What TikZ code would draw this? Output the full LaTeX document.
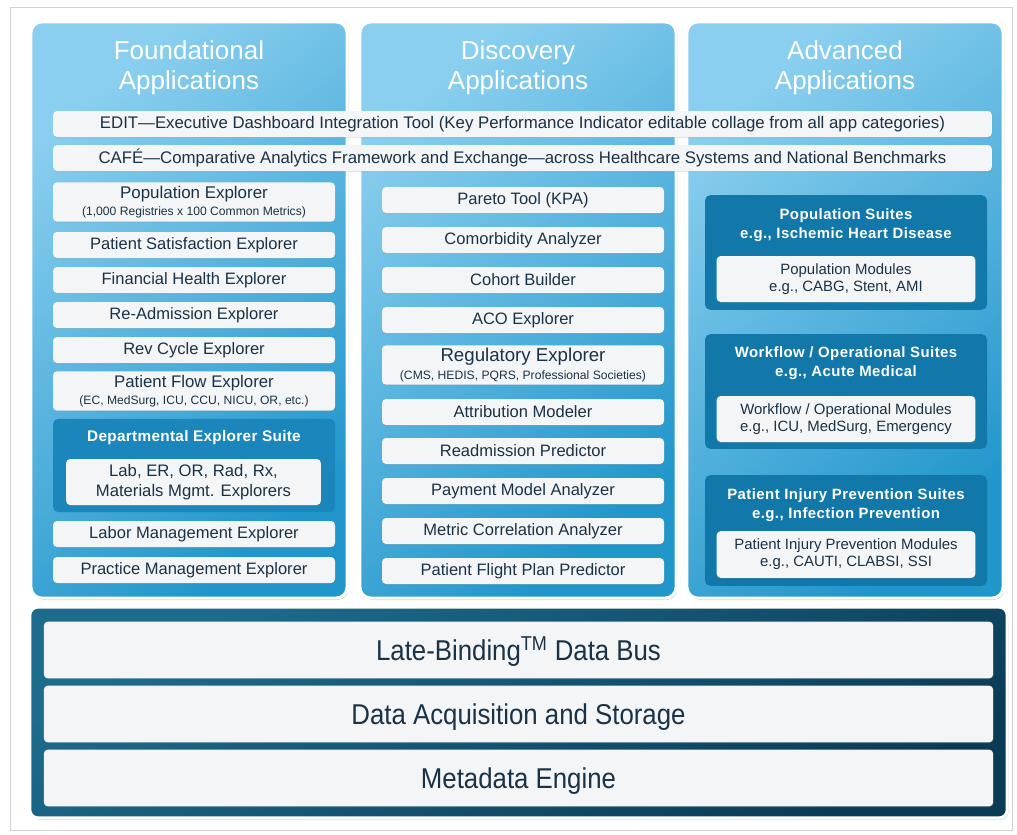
\documentclass[tikz,border=0pt]{standalone}
\usepackage{fontspec}
\setmainfont{Liberation Sans}
\usetikzlibrary{positioning, shadows}

\definecolor{skyLight}{HTML}{8ACFEF}
\definecolor{skyDark}{HTML}{2196CB}
\definecolor{suiteBlue}{HTML}{1278AA}
\definecolor{deptBlue}{HTML}{1A86BC}
\definecolor{busLight}{HTML}{1D6C8E}
\definecolor{busDark}{HTML}{0A3B55}
\definecolor{barFill}{HTML}{F4F5F6}
\definecolor{inkBlue}{HTML}{1A3246}
\definecolor{frameGray}{HTML}{D2D2D2}

\begin{document}
\begin{tikzpicture}[
    x=0.75pt, y=-0.75pt,
    column/.style={draw=white, line width=2.2pt, rounded corners=8pt,
        top color=skyLight, bottom color=skyDark, shading angle=40,
        minimum width=237pt, minimum height=432pt,
        drop shadow={opacity=0.3, shadow xshift=1pt, shadow yshift=-1.5pt}},
    coltitle/.style={text=white, align=center,
        font=\fontsize{19.5}{22.5}\selectfont},
    bar/.style={fill=barFill, rounded corners=3pt, text=inkBlue,
        align=center, inner sep=0pt,
        drop shadow={opacity=0.22, shadow xshift=0.4pt, shadow yshift=-0.8pt}},
    wide/.style={bar, minimum width=704pt, minimum height=19.5pt,
        font=\fontsize{12.6}{14}\selectfont},
    item/.style={bar, minimum width=211.5pt, minimum height=19.5pt,
        font=\fontsize{12.4}{14}\selectfont},
    tallitem/.style={item, minimum height=29.5pt},
    suite/.style={fill=suiteBlue, rounded corners=4pt, minimum width=211.5pt,
        inner sep=0pt},
    suitetitle/.style={text=white, align=center,
        font=\fontsize{11.2}{14.2}\selectfont\bfseries\addfontfeature{LetterSpace=3}},
    module/.style={bar, minimum width=194pt, minimum height=34.5pt,
        font=\fontsize{11.2}{12.8}\selectfont},
    busbar/.style={bar, minimum width=712pt, minimum height=42.5pt,
        text height=18pt, text depth=2pt,
        font=\fontsize{21.5}{23}\selectfont},
]
\useasboundingbox (0,0) rectangle (1017,835);
\fill[white] (0,0) rectangle (1017,835);
\draw[frameGray, line width=0.6pt] (10,7) rectangle (1012,830);

% application columns
\node[column] (found) at (189,310) {};
\node[column] (disc) at (518,310) {};
\node[column] (adv) at (845,310) {};

\node[coltitle] (foundtitle) at (189,68) {Foundational\\Applications};
\node[coltitle] (disctitle) at (518,68) {Discovery\\Applications};
\node[coltitle] (advtitle) at (845,68) {Advanced\\Applications};

% bars across all columns
\node[wide] (edit) at (522.5,124) {EDIT---Executive Dashboard Integration Tool (Key Performance Indicator editable collage from all app categories)};
\node[wide] (cafe) at (522.5,158) {CAFÉ---Comparative Analytics Framework and Exchange---across Healthcare Systems and National Benchmarks};

% foundational
\node[tallitem] (popexp) at (194,202) {{\fontsize{12.7}{14}\selectfont Population Explorer}\\[-1pt]{\fontsize{9.1}{10}\selectfont (1,000 Registries x 100 Common Metrics)}};
\node[item] (patsat) at (194,245) {Patient Satisfaction Explorer};
\node[item] (finhealth) at (194,280) {Financial Health Explorer};
\node[item] (readm) at (194,315) {Re-Admission Explorer};
\node[item] (revcycle) at (194,350) {Rev Cycle Explorer};
\node[tallitem] (patflow) at (194,391) {{\fontsize{12.6}{14}\selectfont Patient Flow Explorer}\\[-1pt]{\fontsize{9.1}{10}\selectfont (EC, MedSurg, ICU, CCU, NICU, OR, etc.)}};
\node[suite, fill=deptBlue, minimum height=70pt] (dept) at (194,465.5) {};
\node[suitetitle, font=\fontsize{11.5}{13}\selectfont\bfseries\addfontfeature{LetterSpace=2}] (depttitle) at (194,438) {Departmental Explorer Suite};
\node[bar, minimum width=191pt, minimum height=34.5pt, font=\fontsize{12.5}{15}\selectfont] (deptmods) at (193.5,482) {Lab, ER, OR, Rad, Rx,\\Materials Mgmt. Explorers};
\node[item] (labor) at (194,534) {Labor Management Explorer};
\node[item] (practice) at (194,570) {Practice Management Explorer};

% discovery
\node[item] (pareto) at (523,200) {Pareto Tool (KPA)};
\node[item] (comorb) at (523,240) {Comorbidity Analyzer};
\node[item] (cohort) at (523,280) {Cohort Builder};
\node[item] (aco) at (523,320) {ACO Explorer};
\node[tallitem] (regul) at (523,365) {{\fontsize{14}{15}\selectfont Regulatory Explorer}\\[-1pt]{\fontsize{9.1}{10}\selectfont (CMS, HEDIS, PQRS, Professional Societies)}};
\node[item] (attrib) at (523,412) {Attribution Modeler};
\node[item] (readpred) at (523,451) {Readmission Predictor};
\node[item] (payment) at (523,491) {Payment Model Analyzer};
\node[item] (metric) at (523,531) {Metric Correlation Analyzer};
\node[item] (flight) at (523,571) {Patient Flight Plan Predictor};

% advanced
\node[suite, minimum height=86pt] (popsuite) at (846,252.5) {};
\node[suitetitle] (popsuitetitle) at (846,225.5) {Population Suites\\e.g., Ischemic Heart Disease};
\node[module] (popmods) at (846,279) {Population Modules\\e.g., CABG, Stent, AMI};

\node[suite, minimum height=86pt] (flowsuite) at (846,391.5) {};
\node[suitetitle] (flowsuitetitle) at (846,363.5) {Workflow / Operational Suites\\e.g., Acute Medical};
\node[module] (flowmods) at (846,419) {Workflow / Operational Modules\\e.g., ICU, MedSurg, Emergency};

\node[suite, minimum height=83pt] (injsuite) at (846,530.5) {};
\node[suitetitle] (injsuitetitle) at (846,505.5) {Patient Injury Prevention Suites\\e.g., Infection Prevention};
\node[module, minimum height=35pt] (injmods) at (846,554.5) {Patient Injury Prevention Modules\\e.g., CAUTI, CLABSI, SSI};

% data platform
\node[draw=white, line width=2.2pt, rounded corners=6pt, top color=busLight,
    bottom color=busDark, shading angle=30, minimum width=733pt,
    minimum height=158pt,
    drop shadow={opacity=0.3, shadow xshift=1pt, shadow yshift=-1.5pt}]
    (platform) at (518.5,712.5) {};
\node[busbar] (databus) at (518.5,650) {\scalebox{0.9}[1]{Late-Binding\textsuperscript{TM} Data Bus}};
\node[busbar] (acquis) at (518.5,714) {\scalebox{0.9}[1]{Data Acquisition and Storage}};
\node[busbar] (metadata) at (518.5,778) {\scalebox{0.9}[1]{Metadata Engine}};
\end{tikzpicture}
\end{document}
